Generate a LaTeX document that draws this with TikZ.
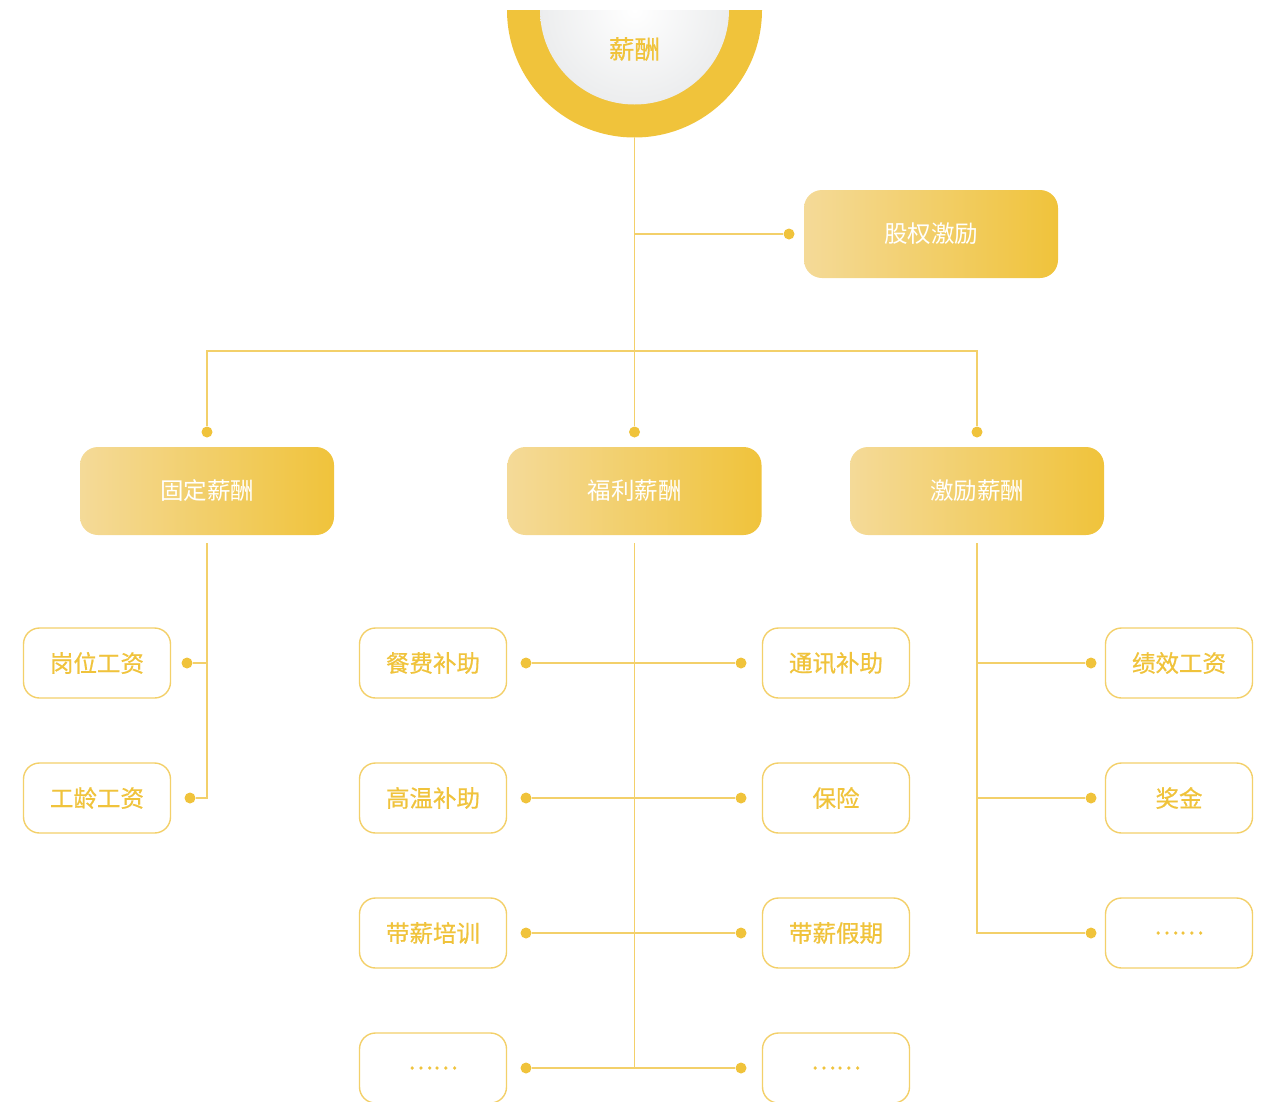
\documentclass[tikz,border=0pt]{standalone}
\usepackage{fontspec}
\newfontfamily\cjk{Noto Sans CJK SC}
\newfontfamily\cjkm[UprightFeatures={FakeBold=0.6}]{Noto Sans CJK SC}
\usetikzlibrary{positioning}
\definecolor{gold}{HTML}{F0C33B}
\definecolor{goldlight}{HTML}{F4DA98}
\definecolor{linegold}{HTML}{F3D06A}
\definecolor{coregrey}{HTML}{ECEDEE}

\begin{document}
\begin{tikzpicture}[x=1pt, y=-1pt,
    link/.style={draw=linegold, line width=1.4pt},
    dot/.style={circle, fill=gold, inner sep=0pt, minimum size=11pt},
    mainbox/.style={rounded corners=18pt, minimum width=254pt, minimum height=88pt,
        left color=goldlight, right color=gold, text=white,
        font=\cjk\fontsize{23.5}{27}\selectfont},
    subbox/.style={draw=linegold, line width=1.4pt, rounded corners=16pt, fill=white,
        minimum width=147pt, minimum height=70pt, text=gold,
        font=\cjkm\fontsize{23.5}{27}\selectfont}]

\useasboundingbox (0,0) rectangle (1265,1101);

% root
\begin{scope}
    \clip (0,10) rectangle (1265,1101);
    \node[circle, fill=gold, inner sep=0pt, minimum size=255pt](root) at (634.5,10){};
    \node[circle, inner sep=0pt, minimum size=189pt, inner color=white, outer color=coregrey](core) at (634.5,10){};
\end{scope}
\node[text=gold, font=\cjkm\fontsize{25.5}{29}\selectfont](title) at (634.5,49){薪酬};

% level 1
\node[mainbox](gq) at (931,234){股权激励};
\node[mainbox](gd) at (207,491){固定薪酬};
\node[mainbox](fl) at (634.5,491){福利薪酬};
\node[mainbox](jl) at (977,491){激励薪酬};

\node[dot](dgq) at (789,234){};
\node[dot](dgd) at (207,432){};
\node[dot](dfl) at (634.5,432){};
\node[dot](djl) at (977,432){};
\coordinate(hub) at (634.5,351);

\draw[link] (root.south) -- (dfl);
\draw[link] (root.south |- dgq) -- (dgq);
\draw[link] (dgd) |- (hub) -| (djl);

% fixed
\node[subbox](a1) at (97,663){岗位工资};
\node[subbox](a2) at (97,798){工龄工资};
\node[dot](da1) at (187,663){};
\node[dot](da2) at (190,798){};
\draw[link] ([yshift=-8pt]gd.south) |- (da2);
\draw[link] (da1 -| gd) -- (da1);

% welfare
\node[subbox](b1) at (433,663){餐费补助};
\node[subbox](b2) at (433,798){高温补助};
\node[subbox](b3) at (433,933){带薪培训};
\node[subbox](b4) at (433,1068){……};
\node[subbox](c1) at (836,663){通讯补助};
\node[subbox](c2) at (836,798){保险};
\node[subbox](c3) at (836,933){带薪假期};
\node[subbox](c4) at (836,1068){……};
\node[dot](db1) at (526,663){};
\node[dot](db2) at (526,798){};
\node[dot](db3) at (526,933){};
\node[dot](db4) at (526,1068){};
\node[dot](dc1) at (741,663){};
\node[dot](dc2) at (741,798){};
\node[dot](dc3) at (741,933){};
\node[dot](dc4) at (741,1068){};
\draw[link] ([yshift=-8pt]fl.south) -- (fl.south |- db4);
\draw[link] (db1) -- (dc1);
\draw[link] (db2) -- (dc2);
\draw[link] (db3) -- (dc3);
\draw[link] (db4) -- (dc4);

% incentive
\node[subbox](e1) at (1179,663){绩效工资};
\node[subbox](e2) at (1179,798){奖金};
\node[subbox](e3) at (1179,933){……};
\node[dot](de1) at (1091,663){};
\node[dot](de2) at (1091,798){};
\node[dot](de3) at (1091,933){};
\draw[link] ([yshift=-8pt]jl.south) |- (de3);
\draw[link] (de1 -| jl) -- (de1);
\draw[link] (de2 -| jl) -- (de2);

\end{tikzpicture}
\end{document}
